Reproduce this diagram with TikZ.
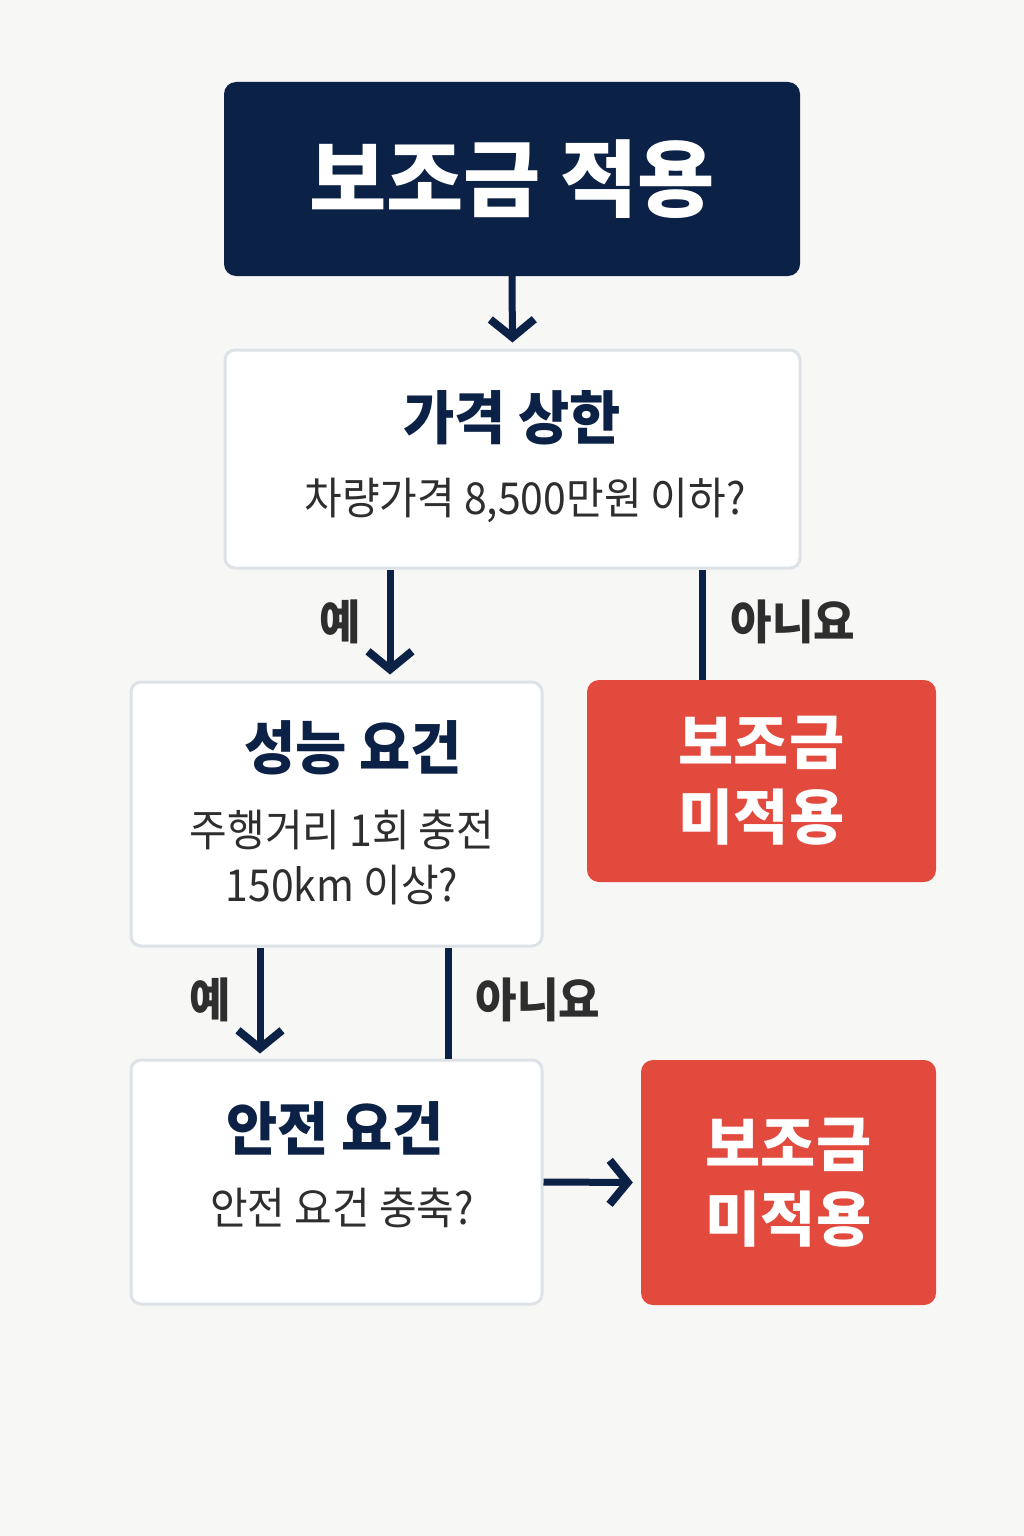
\documentclass[tikz,border=0pt]{standalone}
\usepackage{fontspec}
\newfontfamily\krb{Noto Sans CJK KR}[FakeStretch=0.96]
\newfontfamily\krr{Noto Sans CJK KR}[FakeStretch=0.93]
\newfontfamily\krw{Noto Sans CJK KR}
\usetikzlibrary{arrows.meta}
\definecolor{navy}{HTML}{0B2146}
\definecolor{nored}{HTML}{E34A3E}
\definecolor{boxline}{HTML}{DDE2E7}
\definecolor{txt}{HTML}{2E2E2E}
\definecolor{bg}{HTML}{F7F7F6}
\tikzset{box/.style={draw=boxline,line width=3pt,fill=white,rounded corners=10pt},
 nobox/.style={fill=nored,rounded corners=12pt,text=white,align=center,font=\krw\bfseries\fontsize{60}{75}\selectfont},
 head/.style={inner sep=0,text=navy,font=\krb\bfseries\fontsize{58}{70}\selectfont},
 sub/.style={inner sep=0,text=txt,align=center,font=\krr\fontsize{44}{55}\selectfont},
 lab/.style={inner sep=0,text=txt,font=\krb\bfseries\fontsize{47}{50}\selectfont},
 arr/.style={draw=navy,line width=7pt,-{Straight Barb[length=18pt,width=44pt,line width=8pt]}},
 ln/.style={draw=navy,line width=7pt}}

\begin{document}
\begin{tikzpicture}[x=1pt,y=-1pt]
\fill[bg] (0,0) rectangle (1024,1536);
\node[fill=navy,rounded corners=12pt,minimum width=576,minimum height=194,text=white,font=\krw\bfseries\fontsize{84}{90}\selectfont] (top) at (512,179) {보조금 적용};
\node[box,minimum width=575,minimum height=218] (price) at (512.5,459) {};
\node[box,minimum width=411,minimum height=264] (perf) at (336.5,814) {};
\node[box,minimum width=411,minimum height=244] (safe) at (336.5,1182) {};
\node[nobox,minimum width=349,minimum height=202] (no1) at (761.5,781) {보조금\\미적용};
\node[nobox,minimum width=295,minimum height=245] (no2) at (788.5,1182.5) {보조금\\미적용};
% box texts
\node[head] (priceh) at (512,418) {가격 상한};
\node[sub] (prices) at (525,500) {차량가격 8,500만원 이하?};
\node[head] (perfh) at (353,748) {성능 요건};
\node[sub] (perfs) at (342,857) {주행거리 1회 충전\\150km 이상?};
\node[head] (safeh) at (335,1128) {안전 요건};
\node[sub] (safes) at (342,1208) {안전 요건 충축?};
% connectors
\draw[arr,shorten >=6pt] (top.south) -- (price.north);
\draw[arr,shorten >=6pt] ([xshift=-122.5pt]price.south) -- ([xshift=-122.5pt]price.south |- perf.north);
\draw[ln] ([xshift=189.5pt]price.south) -- ([xshift=189.5pt]price.south |- no1.north);
\draw[arr,shorten >=5pt] ([xshift=-76.5pt]perf.south) -- ([xshift=-76.5pt]perf.south |- safe.north);
\draw[ln] ([xshift=111.5pt]perf.south) -- ([xshift=111.5pt]perf.south |- safe.north);
\draw[arr,shorten >=8pt] (safe.east) -- (no2.west);
\foreach \n/\x/\y/\t in {y1/340/622/예,n1/793/622/아니요,y2/210/1000/예,n2/538/1000/아니요}
 \node[lab] (\n) at (\x,\y) {\t};
\end{tikzpicture}
\end{document}
